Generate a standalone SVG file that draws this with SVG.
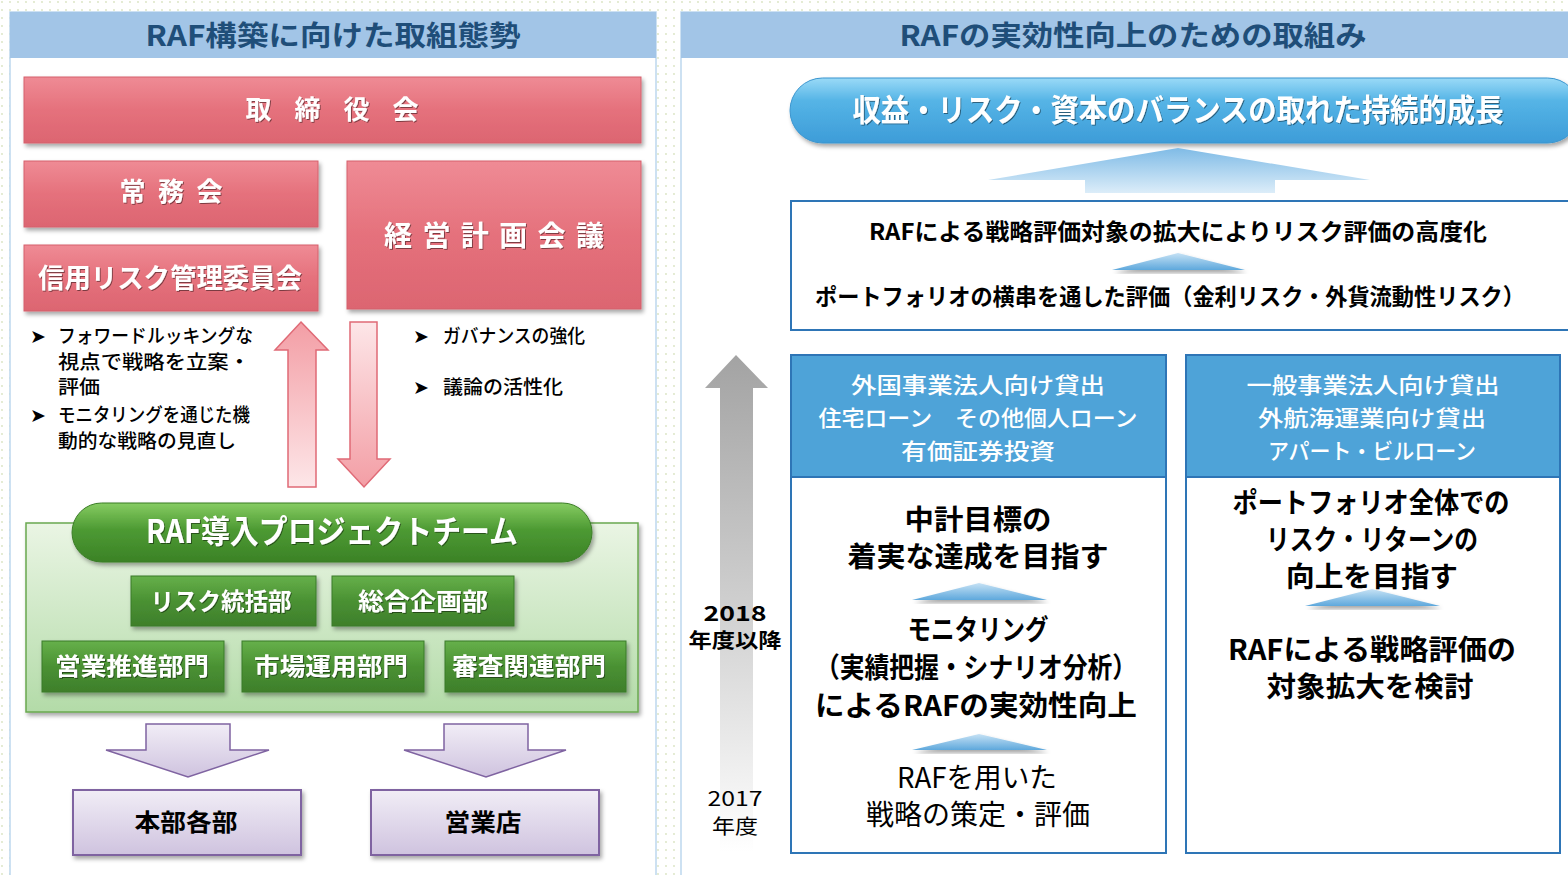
<svg xmlns="http://www.w3.org/2000/svg" width="1568" height="875" viewBox="0 0 1568 875">
<defs>
<pattern id="dots" width="8" height="8" patternUnits="userSpaceOnUse"><circle cx="2" cy="2" r="0.9" fill="#d9e3c0"/></pattern>
<linearGradient id="gRed" x1="0" y1="0" x2="0" y2="1"><stop offset="0" stop-color="#ef8b95"/><stop offset="0.5" stop-color="#e5717c"/><stop offset="1" stop-color="#dc6571"/></linearGradient>
<linearGradient id="gUpRed" x1="0" y1="0" x2="0" y2="1"><stop offset="0" stop-color="#f39ea5"/><stop offset="1" stop-color="#fde6e8"/></linearGradient>
<linearGradient id="gDnRed" x1="0" y1="0" x2="0" y2="1"><stop offset="0" stop-color="#fde6e8"/><stop offset="1" stop-color="#f39ea5"/></linearGradient>
<linearGradient id="gGreenPanel" x1="0" y1="0" x2="0" y2="1"><stop offset="0" stop-color="#eaf5e4"/><stop offset="1" stop-color="#b3dba8"/></linearGradient>
<linearGradient id="gPill" x1="0" y1="0" x2="0" y2="1"><stop offset="0" stop-color="#86cc62"/><stop offset="0.45" stop-color="#4d9a33"/><stop offset="1" stop-color="#3b8226"/></linearGradient>
<linearGradient id="gGreen" x1="0" y1="0" x2="0" y2="1"><stop offset="0" stop-color="#66b04a"/><stop offset="0.5" stop-color="#4a9133"/><stop offset="1" stop-color="#3e7f2b"/></linearGradient>
<linearGradient id="gPurple" x1="0" y1="0" x2="0" y2="1"><stop offset="0" stop-color="#f1edf6"/><stop offset="1" stop-color="#cfc3df"/></linearGradient>
<linearGradient id="gBluePill" x1="0" y1="0" x2="0" y2="1"><stop offset="0" stop-color="#9adaf7"/><stop offset="0.35" stop-color="#55b4e6"/><stop offset="1" stop-color="#3d9cd8"/></linearGradient>
<linearGradient id="gBigUp" x1="0" y1="0" x2="0" y2="1"><stop offset="0" stop-color="#7fbbe6"/><stop offset="1" stop-color="#dcedf9"/></linearGradient>
<linearGradient id="gTri" x1="0" y1="0" x2="0" y2="1"><stop offset="0" stop-color="#c6e2f5"/><stop offset="1" stop-color="#5ea8dc"/></linearGradient>
<linearGradient id="gGray" x1="0" y1="0" x2="0" y2="1"><stop offset="0" stop-color="#a3a3a3"/><stop offset="0.5" stop-color="#cfcfcf"/><stop offset="1" stop-color="#ffffff"/></linearGradient>
<filter id="sh" x="-5%" y="-10%" width="110%" height="130%"><feDropShadow dx="2" dy="3" stdDeviation="2" flood-color="#000" flood-opacity="0.35"/></filter>
<filter id="tsh" x="-5%" y="-20%" width="110%" height="140%"><feDropShadow dx="1" dy="1" stdDeviation="0.6" flood-color="#000" flood-opacity="0.45"/></filter>
<style>
text{font-family:"Noto Sans CJK JP","Liberation Sans",sans-serif;text-anchor:middle}
.title{font-size:28px;font-weight:700;fill:#1f4e79}
.wt{fill:#ffffff;font-weight:700}
.bk{fill:#000000;font-weight:700}
.bul{font-size:19px;fill:#000;text-anchor:start;font-weight:500}
.red{fill:url(#gRed);stroke:#d5606c;stroke-width:1}
.grn{fill:url(#gGreen);stroke:#3a7a28;stroke-width:1}
.pur{fill:url(#gPurple);stroke:#7f63a1;stroke-width:2}
.tri{fill:url(#gTri)}
.hd{fill:#ffffff;font-weight:500;font-size:22px}
</style>
</defs>

<rect width="1568" height="875" fill="#ffffff"/>
<rect width="1568" height="875" fill="url(#dots)"/>

<g id="left-panel">
<rect x="10" y="12" width="646" height="870" fill="#ffffff" stroke="#bdd7ee" stroke-width="1.5"/>
<rect x="10" y="12" width="646" height="46" fill="#a2c5e7"/>
<text class="title" x="333" y="46" textLength="375" lengthAdjust="spacingAndGlyphs">RAF構築に向けた取組態勢</text>
</g>

<g id="right-panel">
<rect x="681" y="12" width="900" height="870" fill="#ffffff" stroke="#bdd7ee" stroke-width="1.5"/>
<rect x="681" y="12" width="900" height="46" fill="#a2c5e7"/>
<text class="title" x="1133" y="46" textLength="467" lengthAdjust="spacingAndGlyphs">RAFの実効性向上のための取組み</text>
</g>

<g id="torishimariyakukai">
<rect class="red" x="24" y="77" width="617" height="66" filter="url(#sh)"/>
<text class="wt" x="332" y="119" font-size="26" textLength="173" lengthAdjust="spacing" filter="url(#tsh)">取締役会</text>
</g>
<g id="jomukai">
<rect class="red" x="24" y="161" width="294" height="66" filter="url(#sh)"/>
<text class="wt" x="171" y="201" font-size="26" textLength="103" lengthAdjust="spacing" filter="url(#tsh)">常務会</text>
</g>
<g id="shinyo-risk">
<rect class="red" x="24" y="245" width="294" height="66" filter="url(#sh)"/>
<text class="wt" x="170" y="288" font-size="27" textLength="264" lengthAdjust="spacingAndGlyphs" filter="url(#tsh)">信用リスク管理委員会</text>
</g>
<g id="keiei-keikaku">
<rect class="red" x="347" y="161" width="294" height="148" filter="url(#sh)"/>
<text class="wt" x="494" y="246" font-size="28" textLength="220" lengthAdjust="spacing" filter="url(#tsh)">経営計画会議</text>
</g>

<g id="bullets-left">
<text class="bul" x="30" y="343">➤</text>
<text class="bul" x="58" y="343" textLength="195" lengthAdjust="spacingAndGlyphs">フォワードルッキングな</text>
<text class="bul" x="58" y="369" textLength="192" lengthAdjust="spacingAndGlyphs">視点で戦略を立案・</text>
<text class="bul" x="58" y="394" textLength="42" lengthAdjust="spacingAndGlyphs">評価</text>
<text class="bul" x="30" y="422">➤</text>
<text class="bul" x="58" y="422" textLength="192" lengthAdjust="spacingAndGlyphs">モニタリングを通じた機</text>
<text class="bul" x="58" y="448" textLength="178" lengthAdjust="spacingAndGlyphs">動的な戦略の見直し</text>
</g>
<g id="bullets-right">
<text class="bul" x="413" y="343">➤</text>
<text class="bul" x="443" y="343" textLength="142" lengthAdjust="spacingAndGlyphs">ガバナンスの強化</text>
<text class="bul" x="413" y="394">➤</text>
<text class="bul" x="443" y="394" textLength="120" lengthAdjust="spacingAndGlyphs">議論の活性化</text>
</g>

<g id="raf-team">
<rect x="26" y="523" width="612" height="189" fill="url(#gGreenPanel)" stroke="#6aa84f" stroke-width="1.5" filter="url(#sh)"/>
<rect x="72" y="503" width="520" height="59" rx="29.5" fill="url(#gPill)" stroke="#3b7d27" stroke-width="1" filter="url(#sh)"/>
<text class="wt" x="332" y="543" font-size="32" textLength="372" lengthAdjust="spacingAndGlyphs" filter="url(#tsh)">RAF導入プロジェクトチーム</text>
</g>
<g id="risk-tokatsu">
<rect class="grn" x="131" y="576" width="185" height="50" filter="url(#sh)"/>
<text class="wt" x="221" y="610" font-size="24" textLength="141" lengthAdjust="spacingAndGlyphs" filter="url(#tsh)">リスク統括部</text>
</g>
<g id="sogo-kikaku">
<rect class="grn" x="332" y="576" width="182" height="50" filter="url(#sh)"/>
<text class="wt" x="423" y="610" font-size="24" textLength="130" lengthAdjust="spacingAndGlyphs" filter="url(#tsh)">総合企画部</text>
</g>
<g id="eigyo-suishin">
<rect class="grn" x="42" y="641" width="182" height="51" filter="url(#sh)"/>
<text class="wt" x="132" y="675" font-size="24" textLength="154" lengthAdjust="spacingAndGlyphs" filter="url(#tsh)">営業推進部門</text>
</g>
<g id="shijo-unyo">
<rect class="grn" x="242" y="641" width="182" height="51" filter="url(#sh)"/>
<text class="wt" x="331" y="675" font-size="24" textLength="154" lengthAdjust="spacingAndGlyphs" filter="url(#tsh)">市場運用部門</text>
</g>
<g id="shinsa-kanren">
<rect class="grn" x="445" y="641" width="181" height="51" filter="url(#sh)"/>
<text class="wt" x="529" y="675" font-size="24" textLength="154" lengthAdjust="spacingAndGlyphs" filter="url(#tsh)">審査関連部門</text>
</g>

<g id="honbu">
<rect class="pur" x="73" y="790" width="228" height="65" filter="url(#sh)"/>
<text class="bk" x="186" y="831" font-size="24" textLength="103" lengthAdjust="spacingAndGlyphs">本部各部</text>
</g>
<g id="eigyoten">
<rect class="pur" x="371" y="790" width="228" height="65" filter="url(#sh)"/>
<text class="bk" x="483" y="831" font-size="24" textLength="77" lengthAdjust="spacingAndGlyphs">営業店</text>
</g>

<g id="goal">
<rect x="790" y="78" width="790" height="65" rx="32.5" fill="url(#gBluePill)" stroke="#3a95cf" stroke-width="1" filter="url(#sh)"/>
<text class="wt" x="1178" y="121" font-size="31" font-weight="500" textLength="651" lengthAdjust="spacingAndGlyphs" filter="url(#tsh)">収益・リスク・資本のバランスの取れた持続的成長</text>
</g>

<g id="koudoka">
<rect x="791" y="201" width="790" height="129" fill="#ffffff" stroke="#2e75b6" stroke-width="2"/>
<text class="bk" x="1178" y="240" font-size="23" textLength="618" lengthAdjust="spacingAndGlyphs">RAFによる戦略評価対象の拡大によりリスク評価の高度化</text>
<text class="bk" x="1170" y="305" font-size="23" textLength="710" lengthAdjust="spacingAndGlyphs">ポートフォリオの横串を通した評価（金利リスク・外貨流動性リスク）</text>
</g>

<g id="col-left">
<rect x="791" y="355" width="375" height="498" fill="#ffffff" stroke="#2e75b6" stroke-width="2"/>
<rect x="791" y="355" width="375" height="122" fill="#4ea3d8" stroke="#2e75b6" stroke-width="2"/>
<text class="hd" x="978" y="393" textLength="254" lengthAdjust="spacingAndGlyphs">外国事業法人向け貸出</text>
<text class="hd" x="978" y="426" textLength="319" lengthAdjust="spacingAndGlyphs">住宅ローン　その他個人ローン</text>
<text class="hd" x="978" y="459" textLength="154" lengthAdjust="spacingAndGlyphs">有価証券投資</text>
<text class="bk" x="978" y="530" font-size="28" textLength="147" lengthAdjust="spacingAndGlyphs">中計目標の</text>
<text class="bk" x="978" y="567" font-size="28" textLength="261" lengthAdjust="spacingAndGlyphs">着実な達成を目指す</text>
<text class="bk" x="978" y="640" font-size="28" textLength="141" lengthAdjust="spacingAndGlyphs">モニタリング</text>
<text class="bk" x="976" y="678" font-size="28" textLength="322" lengthAdjust="spacingAndGlyphs">（実績把握・シナリオ分析）</text>
<text class="bk" x="976" y="716" font-size="28" textLength="322" lengthAdjust="spacingAndGlyphs">によるRAFの実効性向上</text>
<text x="977" y="788" font-size="28" fill="#000" textLength="160" lengthAdjust="spacingAndGlyphs">RAFを用いた</text>
<text x="978" y="825" font-size="28" fill="#000" textLength="224" lengthAdjust="spacingAndGlyphs">戦略の策定・評価</text>
</g>

<g id="col-right">
<rect x="1186" y="355" width="374" height="498" fill="#ffffff" stroke="#2e75b6" stroke-width="2"/>
<rect x="1186" y="355" width="374" height="122" fill="#4ea3d8" stroke="#2e75b6" stroke-width="2"/>
<text class="hd" x="1373" y="393" textLength="253" lengthAdjust="spacingAndGlyphs">一般事業法人向け貸出</text>
<text class="hd" x="1372" y="426" textLength="228" lengthAdjust="spacingAndGlyphs">外航海運業向け貸出</text>
<text class="hd" x="1372" y="459" textLength="208" lengthAdjust="spacingAndGlyphs">アパート・ビルローン</text>
<text class="bk" x="1371" y="513" font-size="28" textLength="277" lengthAdjust="spacingAndGlyphs">ポートフォリオ全体での</text>
<text class="bk" x="1372" y="550" font-size="28" textLength="212" lengthAdjust="spacingAndGlyphs">リスク・リターンの</text>
<text class="bk" x="1372" y="587" font-size="28" textLength="172" lengthAdjust="spacingAndGlyphs">向上を目指す</text>
<text class="bk" x="1372" y="660" font-size="28" textLength="288" lengthAdjust="spacingAndGlyphs">RAFによる戦略評価の</text>
<text class="bk" x="1370" y="697" font-size="28" textLength="207" lengthAdjust="spacingAndGlyphs">対象拡大を検討</text>
</g>

<g id="timeline">
<path d="M736 355 L768 388 L753 388 L753 852 L720 852 L720 388 L705 388 Z" fill="url(#gGray)"/>
<text class="bk" x="735" y="621" font-size="21" font-family="'DejaVu Sans',sans-serif" textLength="63" lengthAdjust="spacingAndGlyphs">2018</text>
<text class="bk" x="735" y="648" font-size="20" textLength="93" lengthAdjust="spacingAndGlyphs">年度以降</text>
<text x="735" y="806" font-size="20" fill="#000" font-family="'DejaVu Sans',sans-serif" textLength="55" lengthAdjust="spacingAndGlyphs">2017</text>
<text x="735" y="834" font-size="20" fill="#000" textLength="46" lengthAdjust="spacingAndGlyphs">年度</text>
</g>

<g id="connectors">
<path d="M301 322 L328 350 L316 350 L316 487 L288 487 L288 350 L275 350 Z" fill="url(#gUpRed)" stroke="#e06a76" stroke-width="1.5"/>
<path d="M350 322 L377 322 L377 459 L390 459 L364 487 L338 459 L350 459 Z" fill="url(#gDnRed)" stroke="#e06a76" stroke-width="1.5"/>
<path d="M146 724 L230 724 L230 750 L269 750 L188 777 L106 750 L146 750 Z" fill="url(#gPurple)" stroke="#7f63a1" stroke-width="1.5"/>
<path d="M444 724 L528 724 L528 750 L566 750 L486 777 L404 750 L444 750 Z" fill="url(#gPurple)" stroke="#7f63a1" stroke-width="1.5"/>
<path d="M1178 148 L1370 180 L1275 180 L1275 193 L1085 193 L1085 180 L988 180 Z" fill="url(#gBigUp)"/>
<path d="M1178 253 L1245 270 L1112 270 Z" class="tri" filter="url(#sh)"/>
<path d="M979 583 L1047 600 L912 600 Z" class="tri" filter="url(#sh)"/>
<path d="M979 734 L1047 750 L912 750 Z" class="tri" filter="url(#sh)"/>
<path d="M1372 589 L1440 606 L1305 606 Z" class="tri" filter="url(#sh)"/>
</g>
</svg>
